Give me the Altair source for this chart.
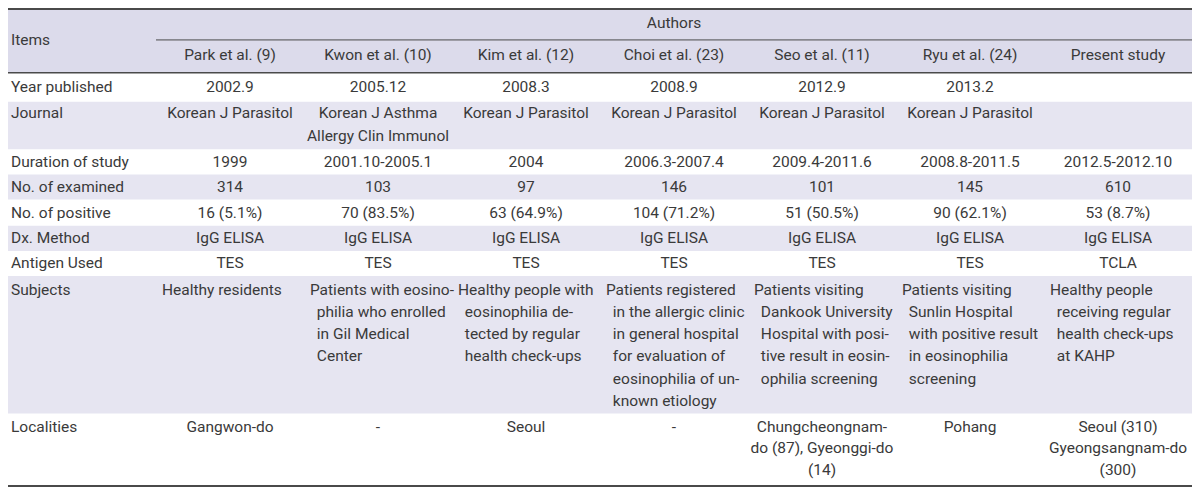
import altair as alt
import pandas as pd

# ---------------- data ----------------
items = ["Year published", "Journal", "Duration of study", "No. of examined",
         "No. of positive", "Dx. Method", "Antigen Used", "Subjects", "Localities"]
authors = ["Park et al. (9)", "Kwon et al. (10)", "Kim et al. (12)", "Choi et al. (23)",
           "Seo et al. (11)", "Ryu et al. (24)", "Present study"]
year_published = ["2002.9", "2005.12", "2008.3", "2008.9", "2012.9", "2013.2", ""]
journal = [["Korean J Parasitol"], ["Korean J Asthma", "Allergy Clin Immunol"],
           ["Korean J Parasitol"], ["Korean J Parasitol"], ["Korean J Parasitol"],
           ["Korean J Parasitol"], []]
duration = ["1999", "2001.10-2005.1", "2004", "2006.3-2007.4", "2009.4-2011.6",
            "2008.8-2011.5", "2012.5-2012.10"]
examined = ["314", "103", "97", "146", "101", "145", "610"]
positive = ["16 (5.1%)", "70 (83.5%)", "63 (64.9%)", "104 (71.2%)", "51 (50.5%)",
            "90 (62.1%)", "53 (8.7%)"]
dx_method = ["IgG ELISA", "IgG ELISA", "IgG ELISA", "IgG ELISA", "IgG ELISA",
             "IgG ELISA", "IgG ELISA"]
antigen = ["TES", "TES", "TES", "TES", "TES", "TES", "TCLA"]
subjects = [
    ["Healthy residents"],
    ["Patients with eosino-", "philia who enrolled", "in Gil Medical", "Center"],
    ["Healthy people with", "eosinophilia de-", "tected by regular", "health check-ups"],
    ["Patients registered", "in the allergic clinic", "in general hospital",
     "for evaluation of", "eosinophilia of un-", "known etiology"],
    ["Patients visiting", "Dankook University", "Hospital with posi-",
     "tive result in eosin-", "ophilia screening"],
    ["Patients visiting", "Sunlin Hospital", "with positive result",
     "in eosinophilia", "screening"],
    ["Healthy people", "receiving regular", "health check-ups", "at KAHP"],
]
localities = [["Gangwon-do"], ["-"], ["Seoul"], ["-"],
              ["Chungcheongnam-", "do (87), Gyeonggi-do", "(14)"], ["Pohang"],
              ["Seoul (310)", "Gyeongsangnam-do", "(300)"]]

# ---------------- layout ----------------
W, H = 1184, 480
FONT = "Roboto"
FS = 15.5
TXT = "#3a3a3a"
row_top = [67, 97, 146, 172, 198, 225, 251, 277, 419]
row_bot = [97, 146, 172, 198, 225, 251, 277, 419, 494]
shaded_rows = [1, 3, 5, 7]
col_w = 150
col0 = 150
LH = 23

texts = []
def add(x, y, t, align):
    texts.append({"x": x, "y": y, "t": t, "align": align})

add(3, 33, "Items", "left")
add(675, 16, "Authors", "center")
for i, a in enumerate(authors):
    add(col0 + col_w * i + col_w / 2, 49, a, "center")

single_rows = {0: year_published, 2: duration, 3: examined, 4: positive,
               5: dx_method, 6: antigen}
for r, name in enumerate(items):
    if r in single_rows:
        yc = (row_top[r] + row_bot[r]) / 2
        add(3, yc, name, "left")
        for i, v in enumerate(single_rows[r]):
            if v:
                add(col0 + col_w * i + col_w / 2, yc, v, "center")
    else:
        first = row_top[r] + (12 if r == 1 else 14)
        add(3, first, name, "left")
        cells = {1: journal, 7: subjects, 8: localities}[r]
        for i, lines in enumerate(cells):
            for k, ln in enumerate(lines):
                y = first + (LH if r != 8 else 22) * k
                if r == 7:
                    x = col0 + col_w * i + (6 if k == 0 else 13)
                    add(x, y, ln, "left")
                else:
                    add(col0 + col_w * i + col_w / 2, y, ln, "center")

tdf = pd.DataFrame(texts)

rects = [{"x": 0, "x2": 1200, "y": 0, "y2": 67, "c": "#dcdbeb"}]
for r in shaded_rows:
    rects.append({"x": 0, "x2": 1200, "y": row_top[r], "y2": row_bot[r], "c": "#e6e5f1"})
rdf = pd.DataFrame(rects)

rules = pd.DataFrame([
    {"x": 0, "x2": 1200, "y": 1, "w": 2},
    {"x": 150, "x2": 1200, "y": 33, "w": 1},
    {"x": 0, "x2": 1200, "y": 67, "w": 1.5},
    {"x": 0, "x2": 1200, "y": 494, "w": 2},
])

xs = alt.Scale(domain=[0, 1200], range=[0, W])
ys = alt.Scale(domain=[0, 496], range=[0, H])

rect_layer = alt.Chart(rdf).mark_rect().encode(
    x=alt.X("x:Q", scale=xs, axis=None), x2="x2:Q",
    y=alt.Y("y:Q", scale=ys, axis=None), y2="y2:Q",
    color=alt.Color("c:N", scale=None),
)
rule_layer = alt.Chart(rules).mark_rule(color="#4a4a4a").encode(
    x=alt.X("x:Q", scale=xs, axis=None), x2="x2:Q",
    y=alt.Y("y:Q", scale=ys, axis=None),
    strokeWidth=alt.StrokeWidth("w:Q", scale=None),
)

def text_layer(al):
    return alt.Chart(tdf[tdf["align"] == al]).mark_text(
        align=al, baseline="middle", font=FONT, fontSize=FS, color=TXT
    ).encode(
        x=alt.X("x:Q", scale=xs, axis=None),
        y=alt.Y("y:Q", scale=ys, axis=None),
        text="t:N",
    )

chart = alt.layer(rect_layer, rule_layer, text_layer("left"), text_layer("center")).properties(
    width=W, height=H, autosize=alt.AutoSizeParams(type="none"), padding=0
).configure_view(stroke=None)

chart.save("out.html", embed_options={"renderer": "svg", "actions": False})
